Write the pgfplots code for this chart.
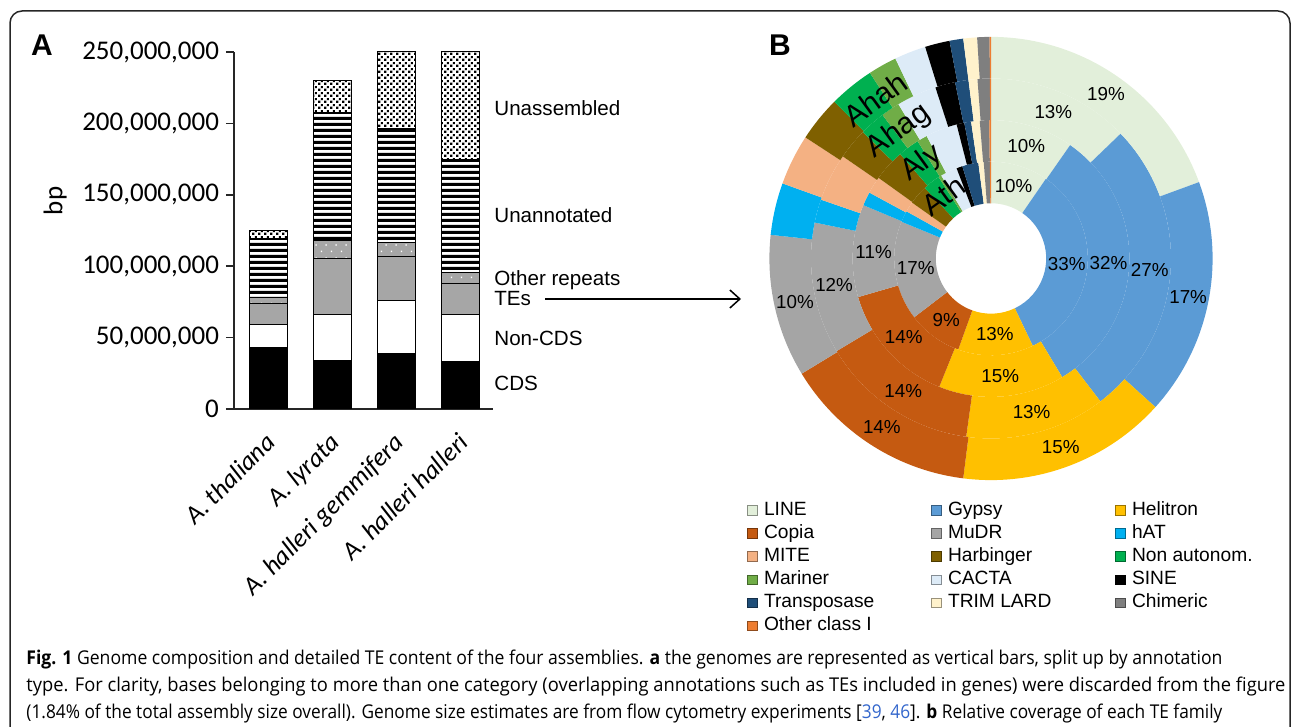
\documentclass[border=0pt]{standalone}
\usepackage{pgfplots}
\pgfplotsset{compat=1.18}
\usepackage{pgfplotstable}
\usepackage{fontspec}
\usepackage{graphicx}
\usetikzlibrary{patterns,arrows.meta}
\setmainfont{Liberation Sans}
\newfontfamily\carlito{Carlito}
\newfontfamily\opensans{Open Sans}

\definecolor{tecol0}{HTML}{E2EFDA}
\definecolor{tecol1}{HTML}{5B9BD5}
\definecolor{tecol2}{HTML}{FFC000}
\definecolor{tecol3}{HTML}{C55A11}
\definecolor{tecol4}{HTML}{A5A5A5}
\definecolor{tecol5}{HTML}{00B0F0}
\definecolor{tecol6}{HTML}{F4B183}
\definecolor{tecol7}{HTML}{7F6000}
\definecolor{tecol8}{HTML}{00B050}
\definecolor{tecol9}{HTML}{70AD47}
\definecolor{tecol10}{HTML}{DDEBF7}
\definecolor{tecol11}{HTML}{000000}
\definecolor{tecol12}{HTML}{1F4E79}
\definecolor{tecol13}{HTML}{FFF2CC}
\definecolor{tecol14}{HTML}{7F7F7F}
\definecolor{tecol15}{HTML}{ED7D31}
\definecolor{bargray}{HTML}{A6A6A6}
\definecolor{linkblue}{HTML}{3366CC}

\pgfdeclarepatternformonly{hstripes}{\pgfqpoint{0pt}{0pt}}{\pgfqpoint{250pt}{3.1pt}}{\pgfqpoint{250pt}{3.1pt}}{%
  \pgfpathrectangle{\pgfqpoint{0pt}{0pt}}{\pgfqpoint{250pt}{1.75pt}}\pgfusepath{fill}}
\pgfdeclarepatternformonly{densedots}{\pgfqpoint{0pt}{0pt}}{\pgfqpoint{3pt}{3pt}}{\pgfqpoint{3pt}{3pt}}{%
  \pgfpathrectangle{\pgfqpoint{0.1pt}{0.1pt}}{\pgfqpoint{1.25pt}{1.25pt}}%
  \pgfpathrectangle{\pgfqpoint{1.6pt}{1.6pt}}{\pgfqpoint{1.25pt}{1.25pt}}\pgfusepath{fill}}
\pgfdeclarepatternformonly{sparsedots}{\pgfqpoint{0pt}{0pt}}{\pgfqpoint{5pt}{6.6pt}}{\pgfqpoint{5pt}{6.6pt}}{%
  \pgfpathrectangle{\pgfqpoint{0.5pt}{0.5pt}}{\pgfqpoint{0.7pt}{0.7pt}}%
  \pgfpathrectangle{\pgfqpoint{3pt}{3.8pt}}{\pgfqpoint{0.7pt}{0.7pt}}\pgfusepath{fill}}

% genome composition (bp)
\pgfplotstableread{
x cds noncds tes other unannot unassem
0 43200000 16300000 14500000 4000000 41500000 5600000
1 34100000 32200000 39200000 12400000 89600000 22400000
2 38700000 37600000 30600000 10000000 79200000 53900000
3 33100000 33200000 21500000 7700000 79300000 75200000
}\genomedata

% relative TE coverage (%) per assembly ring
\pgfplotstableread{
fam ath aly ahag ahah
LINE 9.6 9.7 12.8 19.4
Gypsy 33.3 31.7 26.8 17.3
Helitron 12.6 14.7 12.6 15.3
Copia 9.1 14.4 14.2 14.3
MuDR 16.6 10.8 11.8 10.4
hAT 1.9 1.6 2.1 3.8
MITE 1.7 2.0 4.3 3.7
Harbinger 3.2 3.7 2.8 3.3
NonAutonom 2.9 2.5 2.3 3.3
Mariner 0.5 1.2 1.7 2.1
CACTA 2.8 3.7 3.6 2.3
SINE 1.0 0.9 1.8 1.8
Transposase 2.7 0.8 1.2 1.0
TRIMLARD 0.9 1.0 0.8 1.0
Chimeric 1.0 1.1 1.1 0.9
OtherClassI 0.2 0.2 0.1 0.1
}\tedata

\newcommand{\legtext}[1]{\hspace{3pt}\makebox[83.7pt][l]{#1}}

\begin{document}
\begin{tikzpicture}
\useasboundingbox (0,0) rectangle (646pt,363.5pt);
\clip (0,0) rectangle (646pt,363.5pt);

% outer frame
\draw[line width=0.75pt, black!85, rounded corners=6pt] (5pt,-20pt) rectangle (645pt,358pt);

% panel letters
\node[font=\bfseries\fontsize{15}{15}\selectfont] at (21pt,341pt) {A};
\node[font=\bfseries\fontsize{15}{15}\selectfont] at (390pt,341pt) {B};

% ---------- Panel A ----------
\begin{axis}[
  at={(117pt,159pt)}, anchor=south west,
  width=129.5pt, height=178.5pt, scale only axis,
  ybar stacked, bar width=19pt,
  xmin=-0.53, xmax=3.5, ymin=0, ymax=250000000,
  axis x line*=bottom, axis y line*=left,
  axis line style={-, line width=0.75pt, black!85},
  xtick={0,1,2,3},
  xticklabels={A. thaliana, A. lyrata, A. halleri gemmifera, A. halleri halleri},
  xtick style={draw=none},
  xticklabel style={font=\carlito\itshape\fontsize{13}{13}\selectfont, inner sep=0pt, xshift=-2pt, yshift=-7pt, rotate=45, anchor=north east},
  ytick={0,50000000,100000000,150000000,200000000,250000000},
  scaled y ticks=false,
  tick align=outside, major tick length=4pt,
  ytick style={line width=0.75pt, black!85},
  yticklabel style={font=\carlito\fontsize{13.5}{13.5}\selectfont, /pgf/number format/.cd, fixed, precision=0, 1000 sep={,}, assume math mode=true},
  ylabel={bp},
  ylabel style={at={(axis description cs:-0.69,0.583)}, anchor=center, font=\carlito\fontsize{13.5}{13.5}\selectfont},
]
\addplot[fill=black, draw=black, line width=0.5pt] table[x=x, y=cds]{\genomedata};
\addplot[fill=white, draw=black, line width=0.5pt] table[x=x, y=noncds]{\genomedata};
\addplot[fill=bargray, draw=black, line width=0.5pt] table[x=x, y=tes]{\genomedata};
\addplot[fill=bargray, draw=black, line width=0.5pt, postaction={pattern=sparsedots, pattern color=white}] table[x=x, y=other]{\genomedata};
\addplot[fill=white, draw=black, line width=0.5pt, postaction={pattern=hstripes, pattern color=black}] table[x=x, y=unannot]{\genomedata};
\addplot[fill=white, draw=black, line width=0.5pt, postaction={pattern=densedots, pattern color=black}] table[x=x, y=unassem]{\genomedata};
\end{axis}

% labels of panel A
\begin{scope}[every node/.style={anchor=base west, inner sep=0pt, font=\fontsize{10.3}{10.3}\selectfont}]
\node at (247pt,305.8pt) {Unassembled};
\node at (247pt,252.3pt) {Unannotated};
\node at (247pt,220.8pt) {Other repeats};
\node at (247pt,210.5pt) {TEs};
\node at (247pt,190.5pt) {Non-CDS};
\node at (247pt,168pt) {CDS};
\end{scope}
\draw[line width=0.75pt, -{Straight Barb[length=5pt,width=9pt]}] (272.5pt,214pt) -- (370.5pt,214pt);

% ---------- Panel B ----------
\begin{axis}[
  at={(265.5pt,4.25pt)}, anchor=south west,
  x=1pt, y=1pt, xmin=-230, xmax=230, ymin=-230, ymax=230,
  hide axis, clip=false,
  legend columns=3, legend cell align=left,
  legend image code/.code={\draw[#1, line width=0.5pt] (0pt,-2.4pt) rectangle (4.8pt,2.4pt);},
  legend style={at={(axis description cs:0.2348,0.2359)}, anchor=north west, draw=none, fill=none,
    inner sep=0pt, column sep=0pt, row sep=2.85pt,
    nodes={inner sep=0pt, text height=6.8pt, text depth=1.9pt, font=\fontsize{9.6}{9.6}\selectfont}},
]
\pgfplotsextra{%
\begin{scope}[shift={(axis cs:0,0)}]
\foreach \col/\ri/\ro in {ath/27.6/48.4, aly/48.4/69.2, ahag/69.2/90.0, ahah/90.0/110.8}{%
  \gdef\cum{0}%
  \foreach \i in {0,...,15}{%
    \pgfplotstablegetelem{\i}{\col}\of\tedata
    \let\vv\pgfplotsretval
    \pgfmathsetmacro\sa{90-3.6*\cum}%
    \pgfmathsetmacro\ea{90-3.6*(\cum+\vv)}%
    \fill[tecol\i] (\sa:\ri pt) -- (\sa:\ro pt) arc[start angle=\sa, end angle=\ea, radius=\ro pt] -- (\ea:\ri pt) arc[start angle=\ea, end angle=\sa, radius=\ri pt] -- cycle;
    \ifnum\i<5
      \pgfmathsetmacro\ma{90-3.6*(\cum+\vv/2)}%
      \pgfmathsetmacro\rmid{(\ri+\ro)/2}%
      \node[font=\fontsize{9.4}{9.4}\selectfont, inner sep=0pt] at (\ma:\rmid pt) {\pgfmathprintnumber[fixed,precision=0,assume math mode=true]{\vv}\%};
    \fi
    \pgfmathsetmacro\nc{\cum+\vv}%
    \xdef\cum{\nc}%
  }%
}
\foreach \r in {48.4,69.2,90.0}{%
  \draw[white, line width=0.35pt, opacity=0.8, dash pattern=on 1.2pt off 0.6pt] (0,0) circle[radius=\r pt];
}
\node[rotate=36, font=\fontsize{15}{15}\selectfont, inner sep=0pt] at (126:98.5pt) {Ahah};
\node[rotate=36, font=\fontsize{15}{15}\selectfont, inner sep=0pt] at (126:78.5pt) {Ahag};
\node[rotate=36, font=\fontsize{15}{15}\selectfont, inner sep=0pt] at (126:58.8pt) {Aly};
\node[rotate=36, font=\fontsize{15}{15}\selectfont, inner sep=0pt] at (127:39.5pt) {Ath};
\end{scope}}
\addlegendimage{fill=tecol0, draw=tecol0!60!black}\addlegendentry{\legtext{LINE}}
\addlegendimage{fill=tecol1, draw=tecol1!60!black}\addlegendentry{\legtext{Gypsy}}
\addlegendimage{fill=tecol2, draw=tecol2!60!black}\addlegendentry{\legtext{Helitron}}
\addlegendimage{fill=tecol3, draw=tecol3!60!black}\addlegendentry{\legtext{Copia}}
\addlegendimage{fill=tecol4, draw=tecol4!60!black}\addlegendentry{\legtext{MuDR}}
\addlegendimage{fill=tecol5, draw=tecol5!60!black}\addlegendentry{\legtext{hAT}}
\addlegendimage{fill=tecol6, draw=tecol6!60!black}\addlegendentry{\legtext{MITE}}
\addlegendimage{fill=tecol7, draw=tecol7!60!black}\addlegendentry{\legtext{Harbinger}}
\addlegendimage{fill=tecol8, draw=tecol8!60!black}\addlegendentry{\legtext{Non autonom.}}
\addlegendimage{fill=tecol9, draw=tecol9!60!black}\addlegendentry{\legtext{Mariner}}
\addlegendimage{fill=tecol10, draw=tecol10!60!black}\addlegendentry{\legtext{CACTA}}
\addlegendimage{fill=tecol11, draw=tecol11!60!black}\addlegendentry{\legtext{SINE}}
\addlegendimage{fill=tecol12, draw=tecol12!60!black}\addlegendentry{\legtext{Transposase}}
\addlegendimage{fill=tecol13, draw=tecol13!60!black}\addlegendentry{\legtext{TRIM LARD}}
\addlegendimage{fill=tecol14, draw=tecol14!60!black}\addlegendentry{\legtext{Chimeric}}
\addlegendimage{fill=tecol15, draw=tecol15!60!black}\addlegendentry{\legtext{Other class I}}
\end{axis}

% ---------- Caption ----------
\begin{scope}[every node/.style={anchor=base west, inner sep=0pt, font=\opensans\fontsize{9.5}{9.5}\selectfont}]
\node at (13pt,31pt) {\resizebox{598pt}{\height}{\textbf{Fig. 1} Genome composition and detailed TE content of the four assemblies. \textbf{a} the genomes are represented as vertical bars, split up by annotation}};
\node at (13pt,17.5pt) {\resizebox{629.5pt}{\height}{type. For clarity, bases belonging to more than one category (overlapping annotations such as TEs included in genes) were discarded from the figure}};
\node at (13pt,4pt) {\resizebox{598pt}{\height}{(1.84\% of the total assembly size overall). Genome size estimates are from flow cytometry experiments [\textcolor{linkblue}{39}, \textcolor{linkblue}{46}]. \textbf{b} Relative coverage of each TE family}};
\end{scope}
\end{tikzpicture}
\end{document}
